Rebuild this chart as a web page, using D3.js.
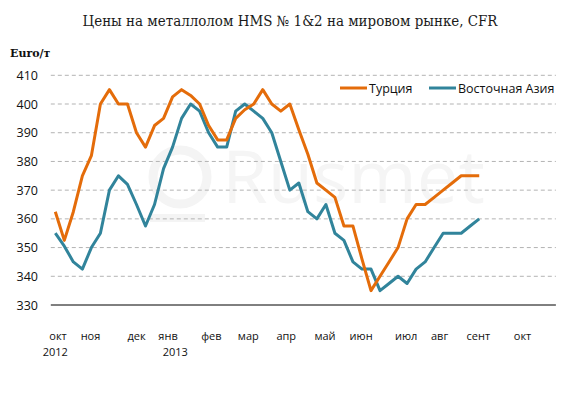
<!DOCTYPE html>
<html>
<head>
<meta charset="utf-8">
<script src="https://cdn.jsdelivr.net/npm/d3@7"></script>
<style>
  body { margin: 0; background: #fff; }
  svg { display: block; }
</style>
</head>
<body>
<svg id="chart" width="580" height="398"></svg>
<script>
// weekly prices, Euro/t, from early Oct 2012
const turkey = [362.5, 352.5, 362.5, 375, 382, 400, 405, 400, 400, 390, 385, 392.5,
  395, 402.5, 405, 403, 400, 392.5, 387.5, 387.5, 395, 398, 400, 405, 400, 397.5,
  400, 391, 382.5, 372.5, 370, 367.5, 357.5, 357.5, 346, 335, 340, 345, 350, 360,
  365, 365, 367.5, 370, 372.5, 375, 375, 375];
const eastAsia = [355, 350.5, 345, 342.5, 350, 355, 370, 375, 372, 365, 357.5, 365,
  377.5, 385, 395, 400, 397.5, 390, 385, 385, 397.5, 400, 397.5, 395, 390, 380,
  370, 372.5, 362.5, 360, 365, 355, 352.5, 345, 342.5, 342.5, 335, 337.5, 340,
  337.5, 342.5, 345, 350, 355, 355, 355, 357.5, 360];

const weekCount = 56; // axis runs to the end of Oct 2013
const monthLabels = ["окт", "ноя", "дек", "янв", "фев", "мар", "апр", "май", "июн", "июл", "авг", "сент", "окт"];
const monthPos = [0.3, 3.9, 9, 12.5, 17.3, 21.4, 25.6, 29.9, 33.9, 38.9, 42.6, 46.9, 51.8];
const yearLabels = ["2012", "2013"];
const yearPos = [0, 13.3];
const yTicks = [330, 340, 350, 360, 370, 380, 390, 400, 410];

const series = [
  { name: "Турция", values: turkey, color: "#e46c0a" },
  { name: "Восточная Азия", values: eastAsia, color: "#31849b" },
];

const svg = d3.select("#chart");
const sans = "'Open Sans', sans-serif";

const x = d3.scaleLinear().domain([-0.5, weekCount - 0.5]).range([50.8, 555.9]);
const y = d3.scaleLinear().domain([330, 410]).range([305, 75.3]);

// title
svg.append("text")
  .attr("x", 290).attr("y", 26)
  .attr("text-anchor", "middle")
  .attr("font-family", "'DejaVu Serif', serif")
  .attr("font-size", 14)
  .attr("fill", "#1a1a1a")
  .attr("textLength", 415)
  .attr("lengthAdjust", "spacingAndGlyphs")
  .text("Цены на металлолом HMS № 1&2 на мировом рынке, CFR");

// faint watermark
const wm = svg.append("g").attr("fill", "none").attr("stroke", "#f4f4f4");
wm.append("circle").attr("cx", 180).attr("cy", 177).attr("r", 27).attr("stroke-width", 9);
wm.append("line").attr("x1", 150).attr("x2", 205).attr("y1", 218).attr("y2", 218).attr("stroke-width", 8);
svg.append("text")
  .attr("x", 222).attr("y", 203)
  .attr("font-family", sans)
  .attr("font-size", 74)
  .attr("fill", "#f5f5f5")
  .text("Rusmet");

// grid
svg.append("g")
  .selectAll("line")
  .data(yTicks.filter((d) => d !== 330))
  .join("line")
  .attr("x1", x.range()[0]).attr("x2", x.range()[1])
  .attr("y1", (d) => y(d)).attr("y2", (d) => y(d))
  .attr("stroke", "#b3b3b3")
  .attr("stroke-dasharray", "4,3");

// y axis
const yAxis = d3.axisLeft(y).tickValues(yTicks).tickSize(0).tickPadding(0);
svg.append("g")
  .attr("transform", "translate(38,0)")
  .call(yAxis)
  .call((g) => g.select(".domain").remove())
  .selectAll("text")
  .attr("font-family", sans)
  .attr("font-size", 12.5)
  .attr("fill", "#111");

svg.append("text")
  .attr("x", 10).attr("y", 57)
  .attr("font-family", "'DejaVu Serif', serif")
  .attr("font-weight", "bold")
  .attr("font-size", 11)
  .attr("fill", "#111")
  .text("Euro/т");

// x axis line
svg.append("line")
  .attr("x1", x.range()[0]).attr("x2", x.range()[1])
  .attr("y1", y(330)).attr("y2", y(330))
  .attr("stroke", "#000");

svg.append("g")
  .selectAll("text")
  .data(monthLabels)
  .join("text")
  .attr("x", (d, i) => x(monthPos[i]))
  .attr("y", 340)
  .attr("text-anchor", "middle")
  .attr("font-family", sans)
  .attr("font-size", 11)
  .attr("fill", "#111")
  .text((d) => d);

svg.append("g")
  .selectAll("text")
  .data(yearLabels)
  .join("text")
  .attr("x", (d, i) => x(yearPos[i]))
  .attr("y", 356)
  .attr("text-anchor", "middle")
  .attr("font-family", sans)
  .attr("font-size", 11)
  .attr("fill", "#111")
  .text((d) => d);

// lines
const line = d3.line().x((d, i) => x(i)).y((d) => y(d));
svg.append("g")
  .selectAll("path")
  .data(series.slice().reverse())
  .join("path")
  .attr("d", (d) => line(d.values))
  .attr("fill", "none")
  .attr("stroke", (d) => d.color)
  .attr("stroke-width", 3)
  .attr("stroke-linejoin", "round");

// legend
const legend = svg.append("g").attr("transform", "translate(340,88)");
const legendX = [0, 89];
const item = legend.selectAll("g")
  .data(series)
  .join("g")
  .attr("transform", (d, i) => `translate(${legendX[i]},0)`);
item.append("line")
  .attr("x1", 0).attr("x2", 27)
  .attr("stroke", (d) => d.color)
  .attr("stroke-width", 3);
item.append("text")
  .attr("x", 29).attr("y", 4.5)
  .attr("font-family", sans)
  .attr("font-size", 12.5)
  .attr("fill", "#111")
  .text((d) => d.name);
</script>
</body>
</html>
